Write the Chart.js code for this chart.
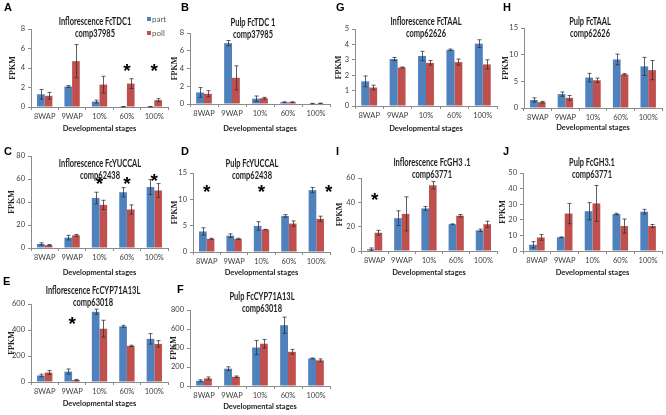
<!DOCTYPE html>
<html>
<head>
<meta charset="utf-8">
<script src="https://cdn.jsdelivr.net/npm/chart.js@4.4.1/dist/chart.umd.min.js"></script>
<style>
  html,body{margin:0;padding:0;background:#fff;}
  #wrap{position:relative;width:666px;height:415px;overflow:hidden;background:#fff;}
  canvas{position:absolute;}
  .lbl{position:absolute;font-family:"Liberation Sans",Arial,sans-serif;font-weight:bold;font-size:11px;color:#000;line-height:1;}
  .ttl{position:absolute;font-family:Lato,"Liberation Sans",sans-serif;font-weight:bold;font-size:11px;color:#1e1e1e;text-align:center;line-height:11.5px;white-space:nowrap;transform:translateX(-50%) scaleX(0.68);}
  .leg{position:absolute;font-family:Lato,"Liberation Sans",sans-serif;font-size:8px;color:#595959;line-height:1;white-space:nowrap;}
  .sw{display:inline-block;width:4px;height:4px;margin-right:1px;vertical-align:1px;}
</style>
</head>
<body>
<div id="wrap"></div>
<script>
// ---------------- DATA ----------------
const stages = ['8WAP', '9WAP', '10%', '60%', '100%'];
const seriesNames = ['part', 'poll'];

// A: Inflorescence FcTDC1
const A_part = [1.3, 2.1, 0.55, 0.03, 0.03];
const A_partErr = [0.5, 0.1, 0.15, 0.02, 0.02];
const A_poll = [1.15, 4.7, 2.3, 2.4, 0.7];
const A_pollErr = [0.35, 1.7, 0.85, 0.5, 0.15];
const A_starX = [3, 4];
const A_starY = [4.1, 4.1];
const A_ticks = [0, 2, 4, 6, 8];

// B: Pulp FcTDC 1
const B_part = [1.3, 6.85, 0.6, 0.2, 0.05];
const B_partErr = [0.55, 0.3, 0.3, 0.05, 0.02];
const B_poll = [1.15, 2.95, 0.65, 0.2, 0.08];
const B_pollErr = [0.35, 1.35, 0.1, 0.05, 0.02];
const B_starX = [];
const B_starY = [];
const B_ticks = [0, 2, 4, 6, 8];

// G: Inflorescence FcTAAL
const G_part = [1.6, 3.05, 3.25, 3.65, 4.05];
const G_partErr = [0.35, 0.1, 0.3, 0.05, 0.25];
const G_poll = [1.2, 2.5, 2.8, 2.85, 2.7];
const G_pollErr = [0.15, 0.03, 0.15, 0.2, 0.3];
const G_starX = [];
const G_starY = [];
const G_ticks = [0, 1, 2, 3, 4, 5];

// H: Pulp FcTAAL
const H_part = [1.5, 2.6, 5.7, 9.1, 7.8];
const H_partErr = [0.4, 0.4, 0.8, 1.0, 1.7];
const H_poll = [1.1, 1.9, 5.2, 6.3, 7.1];
const H_pollErr = [0.15, 0.45, 0.4, 0.15, 1.8];
const H_starX = [];
const H_starY = [];
const H_ticks = [0, 5, 10, 15];

// C: Inflorescence FcYUCCAL
const C_part = [3.5, 9, 43.5, 48.5, 53];
const C_partErr = [1, 2, 5, 4, 6.5];
const C_poll = [2.5, 11, 37.5, 33.5, 50];
const C_pollErr = [0.5, 0.8, 4, 4, 6];
const C_starX = [2, 3, 4];
const C_starY = [59, 59, 62];
const C_ticks = [0, 20, 40, 60, 80];

// D: Pulp FcYUCCAL
const D_part = [3.9, 3.1, 4.95, 6.85, 11.75];
const D_partErr = [0.7, 0.35, 0.8, 0.25, 0.5];
const D_poll = [2.5, 2.5, 4.25, 5.4, 6.3];
const D_pollErr = [0.1, 0.1, 0.05, 0.5, 0.5];
const D_starX = [0, 2, 4.45];
const D_starY = [12.1, 12.1, 12.1];
const D_ticks = [0, 5, 10, 15];

// I: Inflorescence FcGH3 .1
const I_part = [1.5, 27, 35, 22, 17];
const I_partErr = [1, 6, 1.5, 0.3, 1];
const I_poll = [15, 30.5, 54, 29, 22];
const I_pollErr = [2, 14, 3, 1, 2.5];
const I_starX = [0];
const I_starY = [45];
const I_ticks = [0, 20, 40, 60];

// J: Pulp FcGH3.1
const J_part = [4, 8.8, 25.5, 23.7, 25.2];
const J_partErr = [2, 0.2, 5.5, 0.5, 1.5];
const J_poll = [8.7, 24, 30.5, 16, 16];
const J_pollErr = [1.8, 6.5, 11.5, 4.5, 1];
const J_starX = [];
const J_starY = [];
const J_ticks = [0, 10, 20, 30, 40, 50];

// E: Inflorescence FcCYP71A13L
const E_part = [50, 80, 540, 428, 332];
const E_partErr = [10, 20, 20, 8, 40];
const E_poll = [73, 15, 410, 278, 293];
const E_pollErr = [15, 5, 65, 5, 25];
const E_starX = [1];
const E_starY = [479];
const E_ticks = [0, 200, 400, 600];

// F: Pulp FcCYP71A13L
const F_part = [55, 182, 405, 640, 290];
const F_partErr = [10, 20, 75, 85, 5];
const F_poll = [80, 97, 445, 360, 270];
const F_pollErr = [15, 8, 45, 25, 15];
const F_starX = [];
const F_starY = [];
const F_ticks = [0, 200, 400, 600, 800];

// ---------------- PANELS ----------------
const panels = [
  {id:'A', title:['Inflorescence FcTDC1','comp37985'], part:A_part, partErr:A_partErr, poll:A_poll, pollErr:A_pollErr, starX:A_starX, starY:A_starY, ticks:A_ticks},
  {id:'B', title:['Pulp FcTDC 1','comp37985'], part:B_part, partErr:B_partErr, poll:B_poll, pollErr:B_pollErr, starX:B_starX, starY:B_starY, ticks:B_ticks},
  {id:'G', title:['Inflorescence FcTAAL','comp62626'], part:G_part, partErr:G_partErr, poll:G_poll, pollErr:G_pollErr, starX:G_starX, starY:G_starY, ticks:G_ticks},
  {id:'H', title:['Pulp FcTAAL','comp62626'], part:H_part, partErr:H_partErr, poll:H_poll, pollErr:H_pollErr, starX:H_starX, starY:H_starY, ticks:H_ticks},
  {id:'C', title:['Inflorescence FcYUCCAL','comp62438'], part:C_part, partErr:C_partErr, poll:C_poll, pollErr:C_pollErr, starX:C_starX, starY:C_starY, ticks:C_ticks},
  {id:'D', title:['Pulp FcYUCCAL','comp62438'], part:D_part, partErr:D_partErr, poll:D_poll, pollErr:D_pollErr, starX:D_starX, starY:D_starY, ticks:D_ticks},
  {id:'I', title:['Inflorescence FcGH3 .1','comp63771'], part:I_part, partErr:I_partErr, poll:I_poll, pollErr:I_pollErr, starX:I_starX, starY:I_starY, ticks:I_ticks},
  {id:'J', title:['Pulp FcGH3.1','comp63771'], part:J_part, partErr:J_partErr, poll:J_poll, pollErr:J_pollErr, starX:J_starX, starY:J_starY, ticks:J_ticks},
  {id:'E', title:['Inflorescence FcCYP71A13L','comp63018'], part:E_part, partErr:E_partErr, poll:E_poll, pollErr:E_pollErr, starX:E_starX, starY:E_starY, ticks:E_ticks},
  {id:'F', title:['Pulp FcCYP71A13L','comp63018'], part:F_part, partErr:F_partErr, poll:F_poll, pollErr:F_pollErr, starX:F_starX, starY:F_starY, ticks:F_ticks}
];

// layout: plot box [left, top, right, bottom], y-title x, x-title y, title center x/y, letter x/y
const layout = {
  A:{plot:[31,29,168,107], fpkmX:13, xtY:128, tX:95,  tY:15,  lX:4,   lY:2},
  B:{plot:[190,33,330,104], fpkmX:175, xtY:128, tX:253, tY:16,  lX:181, lY:2},
  G:{plot:[355,29,497,106], fpkmX:339, xtY:128, tX:426, tY:15,  lX:336, lY:2},
  H:{plot:[524,28,662,108], fpkmX:506, xtY:127, tX:590, tY:15,  lX:503, lY:2},
  C:{plot:[31,156,168,248], fpkmX:12, xtY:272, tX:100, tY:157, lX:4,   lY:146},
  D:{plot:[193,173,330,252], fpkmX:175, xtY:272, tX:252, tY:157, lX:181, lY:146},
  I:{plot:[361,178,497,251], fpkmX:340, xtY:272, tX:432, tY:156, lX:336, lY:146},
  J:{plot:[523,173,662,251], fpkmX:503, xtY:272, tX:592, tY:156, lX:503, lY:146},
  E:{plot:[31,304,168,382], fpkmX:12, xtY:403, tX:93,  tY:284, lX:3,   lY:276},
  F:{plot:[190,310,330,386], fpkmX:174, xtY:406, tX:262, tY:290, lX:177, lY:284}
};

const BLUE = '#4F81BD', RED = '#C0504D';
const FONT = 'Lato, "Liberation Sans", sans-serif';

const errorBars = {
  id:'errorBars',
  afterDatasetsDraw(chart){
    const ctx = chart.ctx, ys = chart.scales.y;
    ctx.save();
    ctx.strokeStyle = '#333';
    ctx.lineWidth = 0.8;
    chart.data.datasets.forEach((ds, i) => {
      const meta = chart.getDatasetMeta(i);
      meta.data.forEach((bar, j) => {
        const v = ds.data[j], e = ds.err[j];
        if (v == null || !e) return;
        const x = Math.round(bar.x) + 0.5;
        const yt = ys.getPixelForValue(v + e), yb = ys.getPixelForValue(Math.max(0, v - e));
        ctx.beginPath();
        ctx.moveTo(x, yt); ctx.lineTo(x, yb);
        ctx.moveTo(x - 2, yt); ctx.lineTo(x + 2, yt);
        ctx.moveTo(x - 2, yb); ctx.lineTo(x + 2, yb);
        ctx.stroke();
      });
    });
    ctx.restore();
  }
};

const stars = {
  id:'stars',
  afterDraw(chart, args, opts){
    const ctx = chart.ctx, xs = chart.scales.x, ys = chart.scales.y;
    ctx.save();
    ctx.fillStyle = '#000';
    ctx.font = 'bold 19px "Liberation Sans", Arial, sans-serif';
    ctx.textAlign = 'center';
    ctx.textBaseline = 'alphabetic';
    (opts.xs || []).forEach((xi, k) => {
      const x = xs.getPixelForValue(xi);
      const y = ys.getPixelForValue(opts.ys[k]);
      ctx.fillText('*', x, y + 10);
    });
    ctx.restore();
  }
};

const wrap = document.getElementById('wrap');

panels.forEach(p => {
  const L = layout[p.id];
  const [pl, pt, pr, pb] = L.plot;
  const cLeft = L.fpkmX - 5;
  const cTop = pt - 8;
  const cBottom = L.xtY + 5;
  const cRight = pr + 3;
  const W = cRight - cLeft, H = cBottom - cTop;
  const yw = pl - cLeft;
  const xh = cBottom - pb;

  const cv = document.createElement('canvas');
  cv.width = W; cv.height = H;
  cv.style.left = cLeft + 'px'; cv.style.top = cTop + 'px';
  cv.style.width = W + 'px'; cv.style.height = H + 'px';
  wrap.appendChild(cv);

  const yMax = p.ticks[p.ticks.length - 1];
  const step = p.ticks[1] - p.ticks[0];

  new Chart(cv.getContext('2d'), {
    type:'bar',
    data:{
      labels: stages,
      datasets:[
        {label:seriesNames[0], data:p.part, err:p.partErr, backgroundColor:BLUE, borderWidth:0},
        {label:seriesNames[1], data:p.poll, err:p.pollErr, backgroundColor:RED, borderWidth:0}
      ]
    },
    options:{
      responsive:false,
      animation:false,
      devicePixelRatio:1,
      layout:{padding:{top:8, right:3, bottom:0, left:0}},
      plugins:{legend:{display:false}, tooltip:{enabled:false}, title:{display:false},
               stars:{xs:p.starX, ys:p.starY}},
      datasets:{bar:{categoryPercentage:0.56, barPercentage:1}},
      scales:{
        x:{
          grid:{display:true, drawOnChartArea:false, drawTicks:true, tickLength:3, color:'#8c8c8c', offset:true},
          border:{display:true, color:'#8c8c8c', width:1},
          ticks:{color:'#404040', font:{family:FONT, size:7.5}, padding:2, maxRotation:0, autoSkip:false},
          title:{display:true, text:'Developmental stages', color:'#222', font:{family:FONT, size:7.5, weight:'bold'}, padding:0},
          afterFit(s){ s.height = xh; }
        },
        y:{
          min:0, max:yMax,
          grid:{display:true, drawOnChartArea:false, drawTicks:true, tickLength:3, color:'#8c8c8c'},
          border:{display:true, color:'#8c8c8c', width:1},
          ticks:{stepSize:step, color:'#404040', font:{family:FONT, size:7.5}, padding:3},
          title:{display:true, text:'FPKM', color:'#222', font:{family:'"Liberation Serif", serif', size:8, weight:'bold'}, padding:0},
          afterFit(s){ s.width = yw; }
        }
      }
    },
    plugins:[errorBars, stars]
  });

  const t = document.createElement('div');
  t.className = 'ttl';
  t.style.left = L.tX + 'px'; t.style.top = L.tY + 'px';
  t.innerHTML = p.title.join('<br>');
  wrap.appendChild(t);

  const l = document.createElement('div');
  l.className = 'lbl';
  l.style.left = L.lX + 'px'; l.style.top = L.lY + 'px';
  l.textContent = p.id;
  wrap.appendChild(l);
});

// legend (panel A)
[[seriesNames[0], BLUE, 15], [seriesNames[1], RED, 29]].forEach(([name, col, y]) => {
  const d = document.createElement('div');
  d.className = 'leg';
  d.style.left = '147px'; d.style.top = y + 'px';
  d.innerHTML = '<span class="sw" style="background:' + col + '"></span>' + name;
  wrap.appendChild(d);
});
</script>
</body>
</html>
